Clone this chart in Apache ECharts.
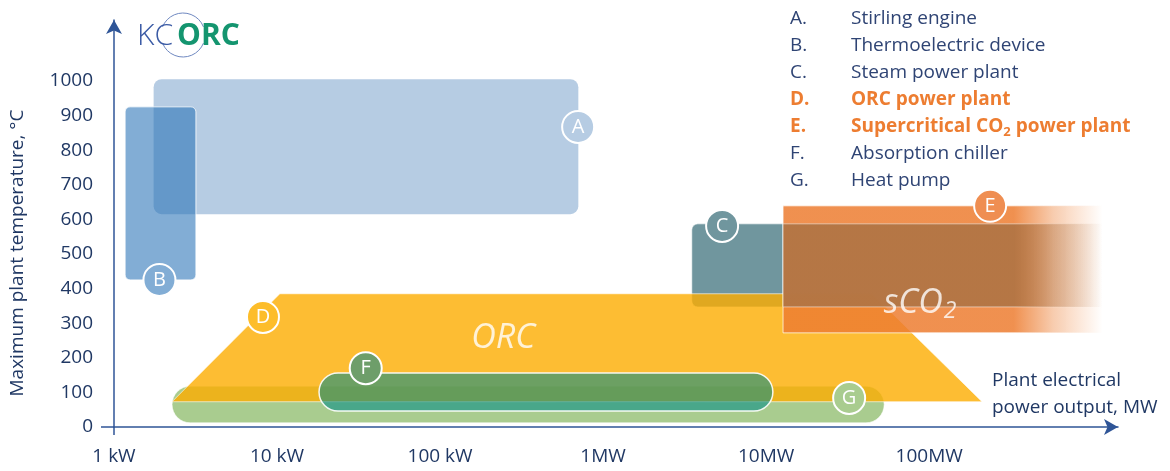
<!DOCTYPE html>
<html>
<head>
<meta charset="utf-8">
<script src="https://cdn.jsdelivr.net/npm/echarts@6/dist/echarts.min.js"></script>
<style>
  html, body { margin: 0; padding: 0; background: #fff; }
  #chart { width: 1170px; height: 471px; }
</style>
</head>
<body>
<div id="chart"></div>
<script>
// power output in kW (log axis), temperature in °C
const xTicks = { 1: '1 kW', 10: '10 kW', 100: '100 kW', 1000: '1MW', 10000: '10MW', 100000: '100MW' };

// boxes: [kW from, kW to, °C low, °C high]
const stirling = [1.75, 705, 615, 1005];
const thermoelectric = [1.17, 3.18, 425, 925];
const steamPlant = [3500, 12700, 347, 587];
const chiller = [18.1, 11000, 46, 156];
const heatPump = [2.27, 53000, 12, 118];
// ORC trapezoid corners [kW, °C]
const orcCorners = [[2.27, 73], [10.4, 385], [44700, 385], [211000, 73]];
// sCO2 band, fading out from sco2FadeFrom
const sco2Box = [12700, 1150000, 272, 639];
const sco2FadeFrom = 330000;

// circled letters
const badgeLetters = ['A', 'B', 'C', 'D', 'E', 'F', 'G'];
const badgeX = [703, 1.9, 5370, 8.2, 236600, 35, 32300];
const badgeT = [867, 425, 581, 318, 639, 170, 84];

// legend
const legendLetters = ['A.', 'B.', 'C.', 'D.', 'E.', 'F.', 'G.'];
const legendTexts = ['Stirling engine', 'Thermoelectric device', 'Steam power plant', 'ORC power plant',
  'Supercritical CO2 power plant', 'Absorption chiller', 'Heat pump'];
const legendHighlight = [false, false, false, true, true, false, false];

// big labels inside areas
const areaLabels = ['ORC', 'sCO2'];
const areaLabelPos = [[244, 257], [88000, 358]];

const NAVY = '#203864';
const AXIS = '#2F5597';
const ORANGE = '#ED7D31';
const FONT = 'Open Sans';
const badgeColors = ['#B6CCE3', '#82ADD5', '#70969E', '#FDBD2A', '#EF8E52', '#6E9E6A', '#A9CC8F'];

const chart = echarts.init(document.getElementById('chart'));

function boxSeries(name, box, st) {
  return {
    name: name,
    type: 'custom',
    data: [box],
    renderItem: function (params, api) {
      const a = api.coord([api.value(0), api.value(3)]);
      const b = api.coord([api.value(1), api.value(2)]);
      const h = b[1] - a[1];
      return {
        type: 'rect',
        shape: { x: a[0], y: a[1], width: b[0] - a[0], height: h, r: st.r === 'pill' ? h / 2 : st.r },
        style: { fill: st.fill, stroke: st.stroke || null, lineWidth: st.lineWidth || 0 }
      };
    }
  };
}

const orcSeries = {
  name: 'ORC power plant',
  type: 'custom',
  data: [orcCorners.flat()],
  renderItem: function (params, api) {
    const pts = [];
    for (let i = 0; i < 4; i++) pts.push(api.coord([api.value(2 * i), api.value(2 * i + 1)]));
    return {
      type: 'polygon',
      shape: { points: pts },
      style: { fill: 'rgba(252,172,0,0.8)', stroke: 'rgba(255,255,255,0.6)', lineWidth: 1 }
    };
  }
};

const sco2Series = {
  name: 'Supercritical CO2 power plant',
  type: 'custom',
  data: [sco2Box.concat([sco2FadeFrom, steamPlant[2], steamPlant[3]])],
  renderItem: function (params, api) {
    const a = api.coord([api.value(0), api.value(3)]);
    const b = api.coord([api.value(1), api.value(2)]);
    const f = api.coord([api.value(4), api.value(2)]);
    const c0 = api.coord([api.value(0), api.value(6)]);
    const c1 = api.coord([api.value(1), api.value(5)]);
    const stop = (f[0] - a[0]) / (b[0] - a[0]);
    const fade = function (r, g, bl, al) {
      return new echarts.graphic.LinearGradient(0, 0, 1, 0, [
        { offset: 0, color: 'rgba(' + r + ',' + g + ',' + bl + ',' + al + ')' },
        { offset: stop, color: 'rgba(' + r + ',' + g + ',' + bl + ',' + al + ')' },
        { offset: stop + (1 - stop) * 0.45, color: 'rgba(' + r + ',' + g + ',' + bl + ',' + (al * 0.45) + ')' },
        { offset: 1, color: 'rgba(' + r + ',' + g + ',' + bl + ',0)' }
      ]);
    };
    return {
      type: 'group',
      children: [
        {
          type: 'rect',
          shape: { x: a[0], y: a[1], width: b[0] - a[0], height: b[1] - a[1] },
          style: { fill: fade(237, 125, 49, 0.85), stroke: fade(255, 255, 255, 0.7), lineWidth: 1 }
        },
        {
          type: 'rect',
          shape: { x: c0[0], y: c0[1], width: c1[0] - c0[0], height: c1[1] - c0[1] },
          style: { fill: fade(176, 116, 68, 0.92), stroke: fade(255, 255, 255, 0.5), lineWidth: 1 }
        }
      ]
    };
  }
};

const badgeSeries = {
  name: 'badges',
  type: 'scatter',
  symbol: 'circle',
  symbolSize: 32,
  data: badgeX.map(function (x, i) {
    return { value: [x, badgeT[i]], itemStyle: { color: badgeColors[i] } };
  }),
  itemStyle: { borderColor: '#fff', borderWidth: 2, opacity: 1 },
  label: {
    show: true,
    position: 'inside',
    formatter: function (p) { return badgeLetters[p.dataIndex]; },
    color: '#fff',
    fontSize: 20,
    fontFamily: FONT
  },
  emphasis: { disabled: true }
};

const textSeries = {
  name: 'area labels',
  type: 'scatter',
  symbolSize: 1,
  itemStyle: { color: 'rgba(0,0,0,0)' },
  data: areaLabelPos.map(function (p) { return { value: p }; }),
  label: {
    show: true,
    position: 'inside',
    formatter: function (p) {
      const s = areaLabels[p.dataIndex];
      return s === 'sCO2' ? '{m|sCO}{s|2}' : '{m|' + s + '}';
    },
    rich: {
      m: { color: '#fff', fontSize: 34, fontStyle: 'italic', fontFamily: FONT, lineHeight: 40 },
      s: { color: '#fff', fontSize: 23, fontStyle: 'italic', fontFamily: FONT, lineHeight: 40, verticalAlign: 'bottom', padding: [22, 0, 0, 1] }
    }
  },
  emphasis: { disabled: true }
};

const legendGraphics = [];
legendLetters.forEach(function (l, i) {
  const hl = legendHighlight[i];
  const base = {
    fill: hl ? ORANGE : '#2F4474', fontSize: 19, fontWeight: hl ? 'bold' : 'normal',
    fontFamily: FONT, verticalAlign: 'middle'
  };
  const y = 19 + 26.85 * i;
  legendGraphics.push({ type: 'text', x: 790, y: y, style: Object.assign({}, base, { text: l }) });
  legendGraphics.push({
    type: 'text', x: 851, y: y,
    style: Object.assign({}, base, {
      text: legendTexts[i].replace('CO2', 'CO{s|2}'),
      rich: { s: { fill: base.fill, fontSize: 13, fontWeight: base.fontWeight, fontFamily: FONT, padding: [12, 0, 0, 0] } }
    })
  });
});

const option = {
  animation: false,
  textStyle: { fontFamily: FONT },
  grid: { left: 114, right: 52, top: 20, bottom: 44, containLabel: false },
  xAxis: {
    type: 'log',
    logBase: 10,
    min: 1,
    max: 1440000,
    axisLine: { show: true, lineStyle: { color: AXIS, width: 1.5 }, symbol: ['none', 'arrow'], symbolSize: [12, 14] },
    axisTick: { show: false },
    splitLine: { show: false },
    axisLabel: {
      margin: 20,
      color: NAVY,
      fontSize: 19,
      formatter: function (v) { return xTicks[Math.round(v)] || ''; }
    }
  },
  yAxis: {
    type: 'value',
    min: 0,
    max: 1176,
    interval: 100,
    axisLine: { show: true, lineStyle: { color: AXIS, width: 1.5 }, symbol: ['none', 'arrow'], symbolSize: [12, 14] },
    axisTick: { show: false },
    splitLine: { show: false },
    axisLabel: {
      margin: 21,
      color: NAVY,
      fontSize: 19,
      formatter: function (v) { return (v <= 1000 && v % 100 === 0) ? String(v) : ''; }
    }
  },
  graphic: [
    { type: 'line', shape: { x1: 101, y1: 427, x2: 114, y2: 427 }, style: { stroke: AXIS, lineWidth: 1.5 } },
    { type: 'line', shape: { x1: 114, y1: 427, x2: 114, y2: 435 }, style: { stroke: AXIS, lineWidth: 1.5 } },
    {
      type: 'text', x: 18, y: 253, rotation: Math.PI / 2,
      style: { text: 'Maximum plant temperature, °C', fill: NAVY, fontSize: 19, fontFamily: FONT, align: 'center', verticalAlign: 'middle' }
    },
    {
      type: 'text', x: 992, y: 367,
      style: { text: 'Plant electrical\npower output, MW', fill: NAVY, fontSize: 19, fontFamily: FONT, lineHeight: 27, verticalAlign: 'top' }
    },
    // logo
    { type: 'arc', shape: { cx: 183, cy: 35, r: 22, startAngle: Math.PI * 1.12, endAngle: Math.PI * 1.88 }, style: { stroke: '#6F88C0', lineWidth: 1, fill: null } },
    { type: 'arc', shape: { cx: 183, cy: 35, r: 22, startAngle: Math.PI * 0.12, endAngle: Math.PI * 0.88 }, style: { stroke: '#6F88C0', lineWidth: 1, fill: null } },
    { type: 'text', x: 137, y: 36, style: { text: 'KC', fill: '#3B5BA5', fontSize: 30, fontWeight: 300, fontFamily: FONT, verticalAlign: 'middle' } },
    { type: 'text', x: 177, y: 36, style: { text: 'ORC', fill: '#14956F', fontSize: 30, fontWeight: 'bold', fontFamily: FONT, verticalAlign: 'middle' } }
  ].concat(legendGraphics),
  series: [
    boxSeries('Heat pump', heatPump, { fill: '#A9CC8F', r: 'pill', stroke: 'rgba(255,255,255,0.6)', lineWidth: 1 }),
    boxSeries('Steam power plant', steamPlant, { fill: '#70969E', r: [6, 0, 0, 6], stroke: 'rgba(255,255,255,0.6)', lineWidth: 1 }),
    orcSeries,
    boxSeries('Absorption chiller', chiller, { fill: 'rgba(3,139,135,0.58)', r: 'pill', stroke: 'rgba(255,255,255,0.9)', lineWidth: 1.5 }),
    boxSeries('Stirling engine', stirling, { fill: '#B6CCE3', r: 8 }),
    boxSeries('Thermoelectric device', thermoelectric, { fill: 'rgba(43,116,184,0.59)', r: 5, stroke: 'rgba(255,255,255,0.8)', lineWidth: 1 }),
    sco2Series,
    badgeSeries,
    textSeries
  ]
};

chart.setOption(option);
</script>
</body>
</html>
